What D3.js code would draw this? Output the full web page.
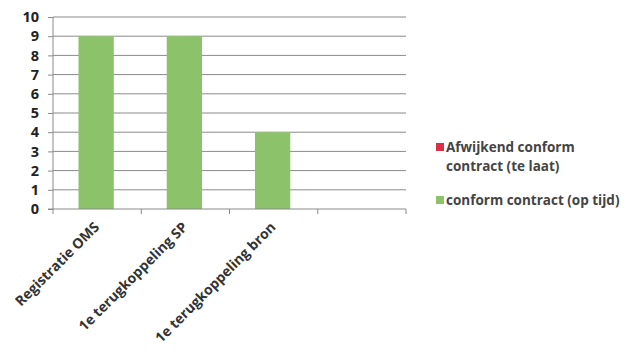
<!DOCTYPE html>
<html><head><meta charset="utf-8">
<script src="https://cdn.jsdelivr.net/npm/d3@7"></script>
<style>body{margin:0;background:#fff}svg{display:block}text{font-family:"Open Sans",sans-serif}</style>
</head><body>
<svg id="c" width="643" height="354"></svg>
<script>
const categories = ["Registratie OMS", "1e terugkoppeling SP", "1e terugkoppeling bron", ""];
const opTijd = [9, 9, 4, 0];
const teLaat = [0, 0, 0, 0];
const yTicks = [0,1,2,3,4,5,6,7,8,9,10];
const seriesNames = ["Afwijkend conform|contract (te laat)", "conform contract (op tijd)"];
const colors = ["#dc3048", "#8cc26a"];

const svg = d3.select("#c");
const L = 53, R = 406, T = 17, B = 209;
const x = d3.scaleBand().domain(d3.range(categories.length)).range([L, R]).paddingInner(0).paddingOuter(0);
const y = d3.scaleLinear().domain([0, 10]).range([B, T]);

// gridlines
svg.append("g").selectAll("line").data(yTicks.filter(d => d > 0)).join("line")
  .attr("x1", L).attr("x2", R).attr("y1", d => y(d)).attr("y2", d => y(d))
  .attr("stroke", "#8a8a8a").attr("stroke-width", 1);

// bars
const bw = x.bandwidth() * 0.4;
svg.append("g").selectAll("rect").data(opTijd).join("rect")
  .attr("x", (d, i) => x(i) + (x.bandwidth() - bw) / 2 - 1)
  .attr("width", bw)
  .attr("y", d => y(d)).attr("height", d => B - y(d))
  .attr("fill", colors[1]);
svg.append("g").selectAll("rect").data(teLaat).join("rect")
  .attr("x", (d, i) => x(i) + (x.bandwidth() - bw) / 2 - 1)
  .attr("width", bw)
  .attr("y", (d, i) => y(d + opTijd[i])).attr("height", (d, i) => y(opTijd[i]) - y(d + opTijd[i]))
  .attr("fill", colors[0]);

// y axis
const ya = svg.append("g").attr("transform", `translate(${L},0)`)
  .call(d3.axisLeft(y).tickValues(yTicks).tickSize(5).tickPadding(9).tickFormat(d3.format("d")));
ya.select(".domain").attr("stroke", "#8a8a8a").attr("d", `M0,${T}V${B}`);
ya.selectAll(".tick line").attr("stroke", "#8a8a8a");
ya.selectAll("text").attr("font-size", 14.5).attr("font-weight", "bold").attr("fill", "#222").attr("font-family", "Open Sans");

// x axis
const xa = svg.append("g").attr("transform", `translate(0,${B})`);
xa.append("line").attr("x1", L - 5).attr("x2", R).attr("stroke", "#8a8a8a");
xa.selectAll(".t").data(d3.range(categories.length + 1)).join("line")
  .attr("x1", i => L + i * x.step()).attr("x2", i => L + i * x.step())
  .attr("y1", 0).attr("y2", 5).attr("stroke", "#8a8a8a");
xa.selectAll("text").data(categories).join("text")
  .attr("transform", (d, i) => `translate(${x(i) + x.bandwidth() / 2 + 3},${19}) rotate(-45)`)
  .attr("text-anchor", "end").attr("font-size", 14).attr("font-weight", "bold").attr("fill", "#333")
  .text(d => d);

// legend
const lg = svg.append("g");
lg.append("rect").attr("x", 436).attr("y", 143).attr("width", 8).attr("height", 8).attr("fill", colors[0]);
const t1 = lg.append("text").attr("x", 446).attr("y", 152).attr("font-size", 13.5).attr("font-weight", "bold").attr("fill", "#444");
seriesNames[0].split("|").forEach((s, k) => t1.append("tspan").attr("x", 446).attr("dy", k ? 19 : 0).text(s));
lg.append("rect").attr("x", 436).attr("y", 196).attr("width", 8).attr("height", 8).attr("fill", colors[1]);
lg.append("text").attr("x", 446).attr("y", 205).attr("font-size", 13.5).attr("font-weight", "bold").attr("fill", "#444").text(seriesNames[1]);
</script>
</body></html>
